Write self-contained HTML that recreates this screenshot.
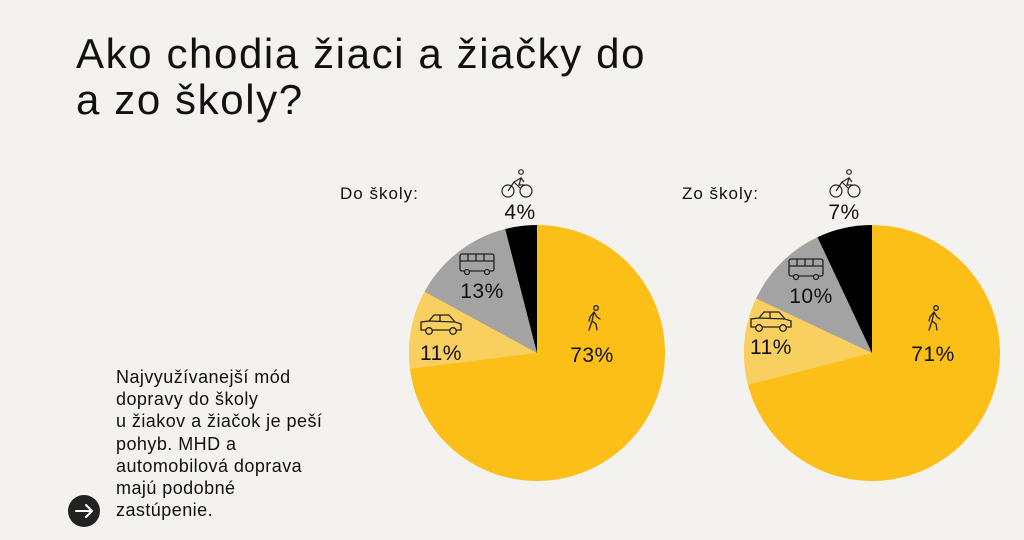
<!DOCTYPE html>
<html><head><meta charset="utf-8"><style>
html,body{margin:0;padding:0;background:#f3f2ef;}
body{width:1024px;height:540px;position:relative;overflow:hidden;font-family:"Liberation Sans","DejaVu Sans",sans-serif;color:#111;}
.title{position:absolute;left:76px;top:31px;font-size:42px;line-height:46px;letter-spacing:1.6px;}
.txt{position:absolute;left:116px;top:366px;font-size:18px;line-height:22.2px;letter-spacing:0.45px;}
</style></head><body>
<div class="title">Ako chodia žiaci a žiačky do<br>a zo školy?</div>
<div class="txt">Najvyužívanejší mód<br>dopravy do školy<br>u žiakov a žiačok je peší<br>pohyb. MHD a<br>automobilová doprava<br>majú podobné<br>zastúpenie.</div>
<svg width="1024" height="540" style="position:absolute;left:0;top:0" font-family="Liberation Sans, DejaVu Sans, sans-serif">
<defs>
<g id="walk" fill="none" stroke="#222" stroke-width="1.3" stroke-linecap="round" stroke-linejoin="round">
<circle cx="2" cy="-12" r="2.3"/><path d="M0,-8 L-2,1 L-5,10 M-2,1 L2,4 L3,10 M0,-8 L-4,-3 L-5,1 M0,-8 L3,-3 L6,-1"/></g>
<g id="car" fill="none" stroke="#222" stroke-width="1.3"><path d="M-20,4 L-20,-4 L-12,-5 L-7,-11 L8,-11 L14,-4 L20,-2 L20,4 Z M-1,-11 L-1,-5 M-12,-5 L14,-4"/><circle cx="-12" cy="5" r="3.3" fill="#f9d060"/><circle cx="12" cy="5" r="3.3" fill="#f9d060"/></g>
<g id="bus" fill="none" stroke="#222" stroke-width="1.3"><rect x="-17" y="-10" width="34" height="17" rx="2"/><path d="M-17,-3 L17,-3 M-9,-10 L-9,-3 M-1,-10 L-1,-3 M7,-10 L7,-3"/><circle cx="-10" cy="8" r="2.5" fill="#a3a3a3"/><circle cx="10" cy="8" r="2.5" fill="#a3a3a3"/></g>
<g id="bike" fill="none" stroke="#222" stroke-width="1.2"><circle cx="-9" cy="5" r="6"/><circle cx="9" cy="5" r="6"/><circle cx="4" cy="-14" r="2.3"/><path d="M-9,5 L-3,-4 L4,-8 L2,-1 L8,-1 M-3,-4 L3,2 M4,-8 L7,-4"/></g>
</defs>
<circle cx="537" cy="353" r="128" fill="#fbbf17"/>
<path d="M537,353 L410,369 A128,128 0 0 1 424.6,291.7 Z" fill="#f9d060"/>
<path d="M537,353 L424.6,291.7 A128,128 0 0 1 505.2,229 Z" fill="#a3a3a3"/>
<path d="M537,353 L505.2,229 A128,128 0 0 1 537,225 Z" fill="#000"/>
<circle cx="872" cy="353" r="128" fill="#fbbf17"/>
<path d="M872,353 L748,384.8 A128,128 0 0 1 756.2,298.5 Z" fill="#f9d060"/>
<path d="M872,353 L756.2,298.5 A128,128 0 0 1 817.5,237.2 Z" fill="#a3a3a3"/>
<path d="M872,353 L817.5,237.2 A128,128 0 0 1 872,225 Z" fill="#000"/>
<g font-size="21" text-anchor="middle" fill="#111" letter-spacing="0.5">
<text x="592" y="362">73%</text><text x="441" y="360">11%</text><text x="482" y="298">13%</text><text x="520" y="219">4%</text>
<text x="933" y="361">71%</text><text x="771" y="354">11%</text><text x="811" y="303">10%</text><text x="844" y="219">7%</text>
</g>
<g font-size="17" fill="#111" letter-spacing="1"><text x="340" y="199">Do školy:</text><text x="682" y="199">Zo školy:</text></g>
<use href="#walk" x="594" y="320"/><use href="#car" x="441" y="326"/><use href="#bus" x="477" y="264"/><use href="#bike" x="517" y="186"/>
<use href="#walk" x="934" y="320"/><use href="#car" x="771" y="323"/><use href="#bus" x="806" y="269"/><use href="#bike" x="845" y="186"/>
<circle cx="84" cy="511" r="16" fill="#222"/>
<path d="M76,511 L92,511 M86,505 L92,511 L86,517" fill="none" stroke="#fff" stroke-width="2" stroke-linecap="round" stroke-linejoin="round"/>
</svg>
</body></html>
